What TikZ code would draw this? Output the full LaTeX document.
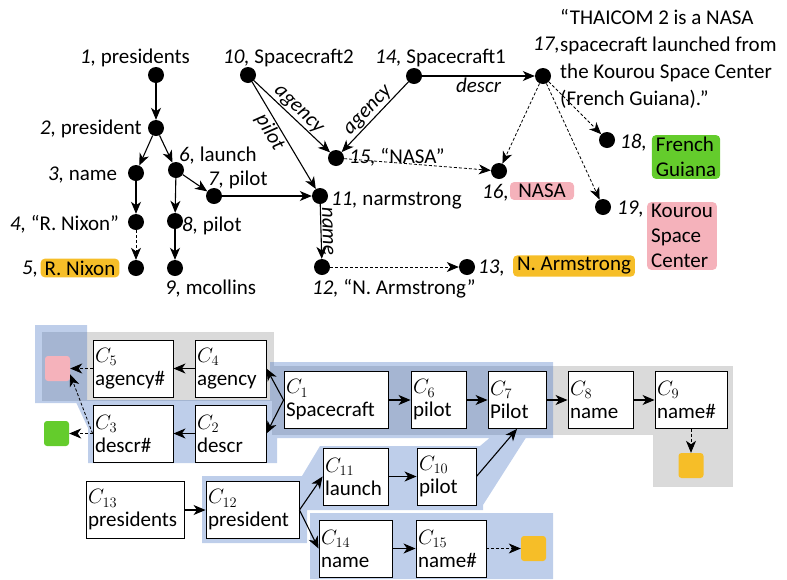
\documentclass[tikz,border=0pt]{standalone}
\usepackage{fontspec}
\setmainfont{Carlito}
\usepackage{tikz}
\usetikzlibrary{arrows.meta}

\newcommand{\bigf}{\fontsize{21}{25}\selectfont}
\newcommand{\boxf}{\fontsize{21}{23}\selectfont}

\definecolor{tagorange}{RGB}{246,190,40}
\definecolor{tagpink}{RGB}{245,178,187}
\definecolor{taggreen}{RGB}{100,204,44}
\definecolor{zoneblue}{RGB}{68,114,196}
\definecolor{zonegray}{RGB}{218,218,218}

\tikzset{
	dot/.style={circle, fill=black, inner sep=0pt, minimum size=16pt},
	txt/.style={anchor=base west, inner sep=0pt},
	arr/.style={line width=1.1pt, -{Stealth[length=12pt, width=10pt, inset=3.5pt]}},
	darr/.style={line width=0.8pt, densely dashed, -{Stealth[length=12pt, width=10pt, inset=3.5pt]}},
	elbl/.style={font=\bigf\itshape, inner sep=1pt},
	tag/.style={rounded corners=4pt, inner xsep=4pt, inner ysep=2pt, align=left},
	cbox/.style={draw, fill=white, line width=0.9pt, align=left, font=\boxf,
		inner xsep=2pt, inner ysep=0pt, minimum height=57pt},
	sq/.style={rounded corners=3pt, minimum size=25pt, inner sep=0pt},
}

\begin{document}
\begin{tikzpicture}[x=1pt, y=-1pt, font=\bigf]
	\useasboundingbox (0,0) rectangle (787,579);

	% zones
	\fill[zonegray, draw=black!15] (42,332) -- (273,332) -- (273,400) -- (42,400) -- cycle
		(272,366) -- (732,366) -- (732,486) -- (653,486) -- (653,434) -- (272,434) -- cycle;
	\fill[zoneblue, fill opacity=0.35]
		(35,325) -- (87,325) -- (87,403) -- (35,403) -- cycle
		(75,400) -- (277,400) -- (277,463) -- (88,463) -- (88,428) -- cycle
		(270,362) -- (553,362) -- (553,438) -- (270,438) -- cycle
		(202,476) -- (302,476) -- (320,446) -- (480,446) -- (492,436) -- (527,436)
			-- (483,505) -- (483,510) -- (307,510) -- (307,543) -- (202,543) -- cycle
		(310,513) -- (553,513) -- (553,579) -- (310,579) -- cycle;

	% top graph
	\node[dot] (v1) at (156,75) {};
	\node[dot] (v2) at (156,128) {};
	\node[dot] (v3) at (136,173) {};
	\node[dot] (v4) at (136,222) {};
	\node[dot] (v5) at (136,268) {};
	\node[dot] (v6) at (176,170) {};
	\node[dot] (v7) at (214,196) {};
	\node[dot] (v8) at (175,221) {};
	\node[dot] (v9) at (175,268) {};
	\node[dot] (v10) at (248,75) {};
	\node[dot] (v11) at (320,196) {};
	\node[dot] (v12) at (322,267) {};
	\node[dot] (v13) at (467,267) {};
	\node[dot] (v14) at (414,76) {};
	\node[dot] (v15) at (336,158) {};
	\node[dot] (v16) at (499,171) {};
	\node[dot] (v17) at (543,76) {};
	\node[dot] (v18) at (607,140) {};
	\node[dot] (v19) at (603,207) {};

	\node[txt] (l1) at (80,63) {\textit{1,} presidents};
	\node[txt] (l10) at (223,63) {\textit{10,} Spacecraft2};
	\node[txt] (l14) at (375,63) {\textit{14,} Spacecraft1};
	\node[txt] (l2) at (40,134) {\textit{2,} president};
	\node[txt] (l6) at (179,161) {\textit{6,} launch};
	\node[txt] (l3) at (48,180) {\textit{3,} name};
	\node[txt] (l7) at (208,185) {\textit{7,} pilot};
	\node[txt] (l11) at (331,205) {\textit{11,} narmstrong};
	\node[txt] (l4) at (10,230) {\textit{4,} “R. Nixon”};
	\node[txt] (l8) at (182,231) {\textit{8,} pilot};
	\node[txt] (l5) at (22,274) {\textit{5,}};
	\node[tag, fill=tagorange] (t5) at (80,268) {R. Nixon};
	\node[txt] (l9) at (165,294) {\textit{9,} mcollins};
	\node[txt] (l12) at (312,294) {\textit{12,} “N. Armstrong”};
	\node[txt] (l15) at (349,163) {\textit{15,} “NASA”};
	\node[txt] (l16) at (482,198) {\textit{16,}};
	\node[tag, fill=tagpink, minimum width=64pt] (t16) at (542,191) {NASA};
	\node[txt] (l13) at (478,273) {\textit{13,}};
	\node[tag, fill=tagorange] (t13) at (574,266) {N. Armstrong};
	\node[txt] (l18) at (620,148) {\textit{18,}};
	\node[tag, fill=taggreen] (t18) at (686,157) {French\\Guiana};
	\node[txt] (l19) at (617,214) {\textit{19,}};
	\node[tag, fill=tagpink] (t19) at (682,236) {Kourou\\Space\\Center};
	\node[txt] (l17) at (533,50) {\textit{17,}};
	\node[anchor=north west, inner sep=0pt, align=left, font=\fontsize{21}{27}\selectfont]
		(t17) at (560,9) {“THAICOM 2 is a NASA\\spacecraft launched from\\the Kourou Space Center\\(French Guiana).”};

	\draw[arr] (v1) -- (v2);
	\draw[arr] (v2) -- (v3);
	\draw[arr] (v2) -- (v6);
	\draw[arr] (v3) -- (v4);
	\draw[darr] (v4) -- (v5);
	\draw[arr] (v6) -- (v8);
	\draw[arr] (v8) -- (v9);
	\draw[arr] (v6) -- (v7);
	\draw[arr] (v7) -- (v11);
	\draw[arr] (v10) -- node[elbl, sloped, above] {agency} (v15);
	\draw[arr] (v10) -- node[elbl, sloped, below, pos=0.42] {pilot} (v11);
	\draw[arr] (v14) -- node[elbl, sloped, above] {agency} (v15);
	\draw[arr] (v14) -- node[elbl, below] {descr} (v17);
	\draw[arr] (v11) -- node[elbl, sloped, above] {name} (v12);
	\draw[darr] (v12) -- (v13);
	\draw[darr] (v15) -- (v16);
	\draw[darr] (v17) -- (v16);
	\draw[darr] (v17) -- (v18);
	\draw[darr] (v17) -- (v19);

	% bottom chains
	\node[cbox, text width=76pt] (c5) at (133,368.5) {$C_5$\\agency\#};
	\node[cbox, text width=67pt] (c4) at (230.5,368.5) {$C_4$\\agency};
	\node[cbox, text width=76pt] (c3) at (133,433.5) {$C_3$\\descr\#};
	\node[cbox, text width=67pt] (c2) at (230.5,433.5) {$C_2$\\descr};
	\node[cbox, text width=100pt] (c1) at (336,400) {$C_1$\\Spacecraft};
	\node[cbox, text width=51pt] (c6) at (438.5,400) {$C_6$\\pilot};
	\node[cbox, text width=54pt] (c7) at (517,400) {$C_7$\\Pilot};
	\node[cbox, text width=61pt] (c8) at (600.5,400) {$C_8$\\name};
	\node[cbox, text width=68pt] (c9) at (691,400) {$C_9$\\name\#};
	\node[cbox, text width=94pt] (c13) at (135,510) {$C_{13}$\\presidents};
	\node[cbox, text width=89pt] (c12) at (252.5,510) {$C_{12}$\\president};
	\node[cbox, text width=61pt] (c11) at (355.5,476.5) {$C_{11}$\\launch};
	\node[cbox, text width=55pt] (c10) at (446.5,476.5) {$C_{10}$\\pilot};
	\node[cbox, text width=69pt] (c14) at (355.5,548.5) {$C_{14}$\\name};
	\node[cbox, text width=66pt] (c15) at (451,548.5) {$C_{15}$\\name\#};

	\node[sq, fill=tagpink] (pk) at (57.5,368.5) {};
	\node[sq, fill=taggreen] (gr) at (56.5,433.5) {};
	\node[sq, fill=tagorange] (or1) at (691,465.5) {};
	\node[sq, fill=tagorange] (or2) at (533.5,548.5) {};

	\draw[arr] (c4) -- (c5);
	\draw[darr] (c5) -- (pk);
	\draw[arr] (c1.west) -- (c4.east);
	\draw[arr] (c1.west) -- (c2.east);
	\draw[arr] (c2) -- (c3);
	\draw[darr] (c3) -- (gr);
	\draw[darr] (c3.west) -- (pk.-25);
	\draw[arr] (c1) -- (c6);
	\draw[arr] (c6) -- (c7);
	\draw[arr] (c7) -- (c8);
	\draw[arr] (c8) -- (c9);
	\draw[darr] (c9) -- (or1);
	\draw[arr] (c13) -- (c12);
	\draw[arr] (c12.east) -- (c11.west);
	\draw[arr] (c12.east) -- (c14.west);
	\draw[arr] (c11) -- (c10);
	\draw[arr] (c10.east) -- (c7.south);
	\draw[arr] (c14) -- (c15);
	\draw[darr] (c15) -- (or2);
\end{tikzpicture}
\end{document}
